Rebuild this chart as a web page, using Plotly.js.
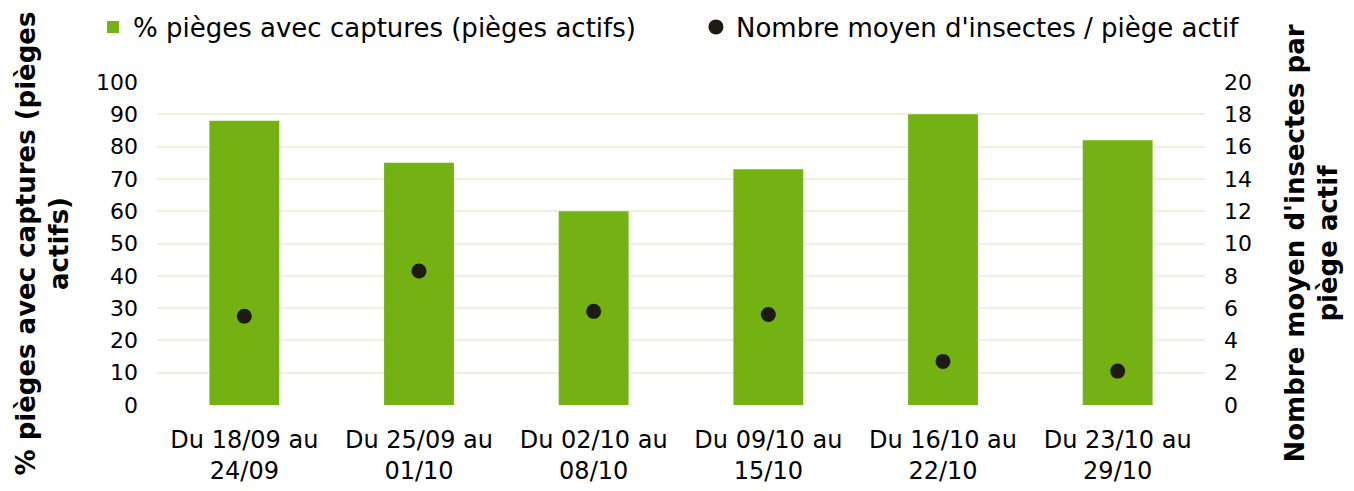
<!DOCTYPE html>
<html>
<head>
<meta charset="utf-8">
<script src="https://cdn.plot.ly/plotly-3.0.1.min.js"></script>
<style>html,body{margin:0;padding:0;background:#fff;}#chart{width:1354px;height:491px;}</style>
</head>
<body>
<div id="chart"></div>
<script>
const categories = ["Du 18/09 au<br>24/09", "Du 25/09 au<br>01/10", "Du 02/10 au<br>08/10", "Du 09/10 au<br>15/10", "Du 16/10 au<br>22/10", "Du 23/10 au<br>29/10"];
const pctCaptures = [88, 75, 60, 73, 90, 82];
const meanInsects = [5.5, 8.3, 5.8, 5.6, 2.7, 2.1];
const barName = "% pièges avec captures (pièges actifs)";
const dotName = "Nombre moyen d'insectes / piège actif";

const font = "DejaVu Sans, Verdana, sans-serif";
const data = [
  {type: "bar", x: categories, y: pctCaptures, name: barName, marker: {color: "#74b213"}, yaxis: "y", legend: "legend"},
  {type: "scatter", mode: "markers", x: categories, y: meanInsects, name: dotName, marker: {color: "#1f1b12", size: 15}, yaxis: "y2", legend: "legend2"}
];
const legendBase = {orientation: "h", xanchor: "left", xref: "container", y: 0.945, yanchor: "middle", yref: "container",
                    font: {size: 26}, itemwidth: 30, bgcolor: "rgba(0,0,0,0)"};
const layout = {
  width: 1354, height: 491,
  margin: {l: 157, r: 149, t: 82, b: 86},
  paper_bgcolor: "#fff", plot_bgcolor: "#fff",
  font: {family: font, size: 22, color: "#000"},
  bargap: 0.6,
  showlegend: true,
  legend: Object.assign({}, legendBase, {x: 0.0687}),
  legend2: Object.assign({}, legendBase, {x: 0.514}),
  xaxis: {type: "category", tickfont: {size: 24}, ticks: "", showline: false, showgrid: false, ticklabelstandoff: 18},
  yaxis: {range: [0, 100], dtick: 10, gridcolor: "#eaf4dc", gridwidth: 2, zeroline: false, ticks: "", tickfont: {size: 22},
          ticklabelstandoff: 18, automargin: true,
          title: {text: "<b>% pièges avec captures (pièges<br>actifs)</b>", font: {size: 26}, standoff: 19}},
  yaxis2: {range: [0, 20], dtick: 2, overlaying: "y", side: "right", showgrid: false, zeroline: false, ticks: "", tickfont: {size: 22},
           ticklabelstandoff: 18, automargin: true,
           title: {text: "<b>Nombre moyen d'insectes par<br>piège actif</b>", font: {size: 26}, standoff: 34}}
};
Plotly.newPlot("chart", data, layout, {displayModeBar: false, staticPlot: true});
</script>
</body>
</html>
